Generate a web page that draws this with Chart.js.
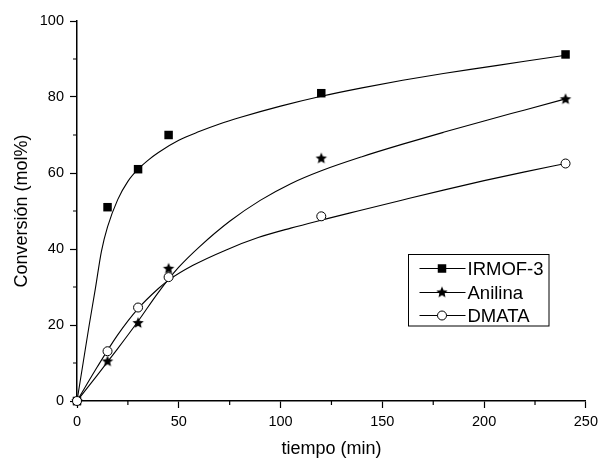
<!DOCTYPE html>
<html>
<head>
<meta charset="utf-8">
<script src="https://cdn.jsdelivr.net/npm/chart.js@4"></script>
<style>
  html, body { margin: 0; padding: 0; background: #fff; }
  canvas { display: block; }
</style>
</head>
<body>
<canvas id="chart" width="603" height="460"></canvas>
<script>
// Datos experimentales (tiempo en min, conversión en mol%)
const tiempos = [0, 15, 30, 45, 120, 240];
const irmofPts = [0, 51, 61, 70, 81, 91.2];
const anilinaPts = [0, 10.4, 20.5, 34.8, 63.8, 79.4];
const dmataPts = [0, 13.1, 24.6, 32.6, 48.6, 62.5];

// Curvas de ajuste
const irmofFitT = [0, 3, 6, 9, 12, 15, 20, 25, 30, 35, 40, 50, 60, 70, 80, 100, 120, 140, 160, 180, 200, 220, 240];
const irmofFit = [0, 10, 20, 29.5, 39.4, 45.8, 53.0, 57.8, 61.0, 63.4, 65.4, 68.6, 70.9, 72.9, 74.6, 77.6, 80.2, 82.4, 84.4, 86.2, 87.8, 89.4, 91.0];
const anilinaFitT = [0, 10, 20, 30, 40, 50, 60, 75, 90, 105, 120, 140, 160, 180, 200, 220, 240];
const anilinaFit = [0, 6.8, 13.8, 21.0, 28.6, 35.2, 40.5, 47.3, 52.8, 57.2, 60.6, 64.3, 67.6, 70.7, 73.7, 76.6, 79.5];
const dmataFitT = [0, 10, 20, 30, 40, 45, 57, 73, 89, 105, 120, 138, 160, 180, 200, 220, 240];
const dmataFit = [0, 9.0, 17.4, 24.3, 29.6, 31.8, 35.7, 39.7, 43.0, 45.5, 47.6, 50.0, 52.9, 55.5, 58.0, 60.3, 62.5];

const series = ['IRMOF-3', 'Anilina', 'DMATA'];
const xMinor = [25, 75, 125, 175, 225];
const yMinor = [10, 30, 50, 70, 90];

const FONT = 'Liberation Sans, Arial, Helvetica, sans-serif';
Chart.defaults.font.family = FONT;
Chart.defaults.color = '#000';

function toXY(xs, ys) {
    return xs.map((x, i) => ({ x: x, y: ys[i] }));
}

// estrella rellena de 5 puntas como imagen para pointStyle
function makeStar(r) {
    const c = document.createElement('canvas');
    const s = Math.ceil(r * 2) + 2;
    c.width = s;
    c.height = s;
    const g = c.getContext('2d');
    g.translate(s / 2, s / 2);
    g.beginPath();
    for (let i = 0; i < 10; i++) {
        const rad = i % 2 ? r * 0.45 : r;
        const a = -Math.PI / 2 + i * Math.PI / 5;
        g.lineTo(rad * Math.cos(a), rad * Math.sin(a));
    }
    g.closePath();
    g.fillStyle = '#000';
    g.fill();
    return c;
}
const star = makeStar(6);

function fitLine(xs, ys, order) {
    return {
        type: 'line',
        data: toXY(xs, ys),
        showLine: true,
        borderColor: '#000',
        borderWidth: 1.1,
        pointRadius: 0,
        cubicInterpolationMode: 'monotone',
        fill: false,
        order: order
    };
}

const minorTicks = {
    id: 'minorTicks',
    afterDraw(chart) {
        const { ctx, chartArea, scales: { x, y } } = chart;
        ctx.save();
        ctx.strokeStyle = '#000';
        ctx.lineWidth = 1.2;
        ctx.beginPath();
        xMinor.forEach(v => {
            const px = x.getPixelForValue(v);
            ctx.moveTo(px, chartArea.bottom);
            ctx.lineTo(px, chartArea.bottom + 4);
        });
        yMinor.forEach(v => {
            const py = y.getPixelForValue(v);
            ctx.moveTo(chartArea.left, py);
            ctx.lineTo(chartArea.left - 4, py);
        });
        ctx.stroke();
        ctx.restore();
    }
};

// leyenda con recuadro dentro del área del gráfico
const boxLegend = {
    id: 'boxLegend',
    afterDraw(chart) {
        const { ctx, chartArea } = chart;
        const left = chartArea.left + 331.5;
        const top = chartArea.top + 233.5;
        const w = 140.5, h = 71.5;
        ctx.save();
        ctx.fillStyle = '#fff';
        ctx.fillRect(left, top, w, h);
        ctx.strokeStyle = '#000';
        ctx.lineWidth = 1;
        ctx.strokeRect(left, top, w, h);
        const rows = [top + 14, top + 38, top + 61];
        ctx.font = '18.5px ' + FONT;
        ctx.textBaseline = 'middle';
        series.forEach((name, i) => {
            const yy = rows[i];
            const mx = left + 33.5;
            ctx.beginPath();
            ctx.moveTo(left + 11, yy);
            ctx.lineTo(left + 57, yy);
            ctx.stroke();
            if (i === 0) {
                ctx.fillStyle = '#000';
                ctx.fillRect(mx - 4.25, yy - 4.25, 8.5, 8.5);
            } else if (i === 1) {
                ctx.drawImage(star, mx - star.width / 2, yy - star.height / 2);
            } else {
                ctx.beginPath();
                ctx.arc(mx, yy, 4.5, 0, Math.PI * 2);
                ctx.fillStyle = '#fff';
                ctx.fill();
                ctx.stroke();
            }
            ctx.fillStyle = '#000';
            ctx.fillText(name, left + 59, yy + 1);
        });
        ctx.restore();
    }
};

new Chart(document.getElementById('chart'), {
    type: 'scatter',
    data: {
        datasets: [
            {
                label: series[0],
                data: toXY(tiempos, irmofPts),
                pointStyle: 'rect',
                pointRadius: 6,
                backgroundColor: '#000',
                borderColor: '#000',
                borderWidth: 0,
                clip: false,
                order: 2
            },
            {
                label: series[1],
                data: toXY(tiempos, anilinaPts),
                pointStyle: star,
                pointRadius: 6,
                clip: false,
                order: 1
            },
            {
                label: series[2],
                data: toXY(tiempos, dmataPts),
                pointStyle: 'circle',
                pointRadius: 4.5,
                backgroundColor: '#fff',
                borderColor: '#000',
                borderWidth: 1,
                clip: false,
                order: 0
            },
            fitLine(irmofFitT, irmofFit, 5),
            fitLine(anilinaFitT, anilinaFit, 4),
            fitLine(dmataFitT, dmataFit, 3)
        ]
    },
    options: {
        responsive: false,
        animation: false,
        layout: { padding: { left: 0, right: 14, top: 21, bottom: 0 } },
        plugins: {
            legend: { display: false },
            tooltip: { enabled: false }
        },
        scales: {
            x: {
                type: 'linear',
                min: 0,
                max: 250,
                ticks: { stepSize: 50, padding: 5, color: '#000', font: { size: 14.5 } },
                grid: { drawOnChartArea: false, drawTicks: true, tickLength: 7, tickColor: '#000', tickWidth: 1.2 },
                border: { display: true, color: '#000', width: 1.5 },
                title: { display: true, text: 'tiempo (min)', color: '#000', font: { size: 18 }, padding: { top: 0, bottom: 0 } },
                afterFit: s => { s.height = 59; }
            },
            y: {
                type: 'linear',
                min: 0,
                max: 100,
                ticks: { stepSize: 20, padding: 6, color: '#000', font: { size: 14.5 } },
                grid: { drawOnChartArea: false, drawTicks: true, tickLength: 7, tickColor: '#000', tickWidth: 1.2 },
                border: { display: true, color: '#000', width: 1.5 },
                title: { display: true, text: 'Conversión (mol%)', color: '#000', font: { size: 18 }, padding: { top: 11, bottom: 0 } },
                afterFit: s => { s.width = 77; }
            }
        }
    },
    plugins: [minorTicks, boxLegend]
});
</script>
</body>
</html>
